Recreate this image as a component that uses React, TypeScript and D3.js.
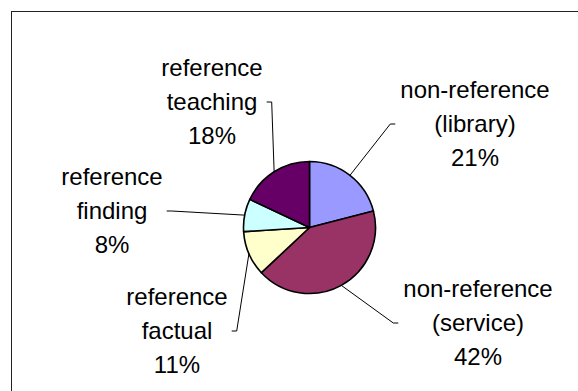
import React, { useMemo } from "react";
import * as d3 from "d3";

// Share of enquiries by type (percent)
const categories = [
  "non-reference (library)",
  "non-reference (service)",
  "reference factual",
  "reference finding",
  "reference teaching",
];
const shares = [21, 42, 11, 8, 18];
const sliceColors = ["#9999FF", "#993366", "#FFFFCC", "#CCFFFF", "#660066"];
// Text lines of each data label (name lines followed by percentage)
const labelLines = [
  ["non-reference", "(library)"],
  ["non-reference", "(service)"],
  ["reference", "factual"],
  ["reference", "finding"],
  ["reference", "teaching"],
];

// Layout
const W = 578;
const H = 391;
const CX = 309.5;
const CY = 227.5;
const R = 66;
const FONT = "Liberation Sans, Arial, Helvetica, sans-serif";
const FONT_SIZE = 24;
const LINE_H = 34;
// label block centre (x) and middle-line centre (y), side the leader meets
const labelPlace: { x: number; y: number; side: "left" | "right" }[] = [
  { x: 475, y: 124, side: "left" },
  { x: 478, y: 323, side: "left" },
  { x: 177, y: 331, side: "right" },
  { x: 112, y: 211, side: "right" },
  { x: 212, y: 102, side: "right" },
];

function textWidth(s: string): number {
  const c = document.createElement("canvas").getContext("2d");
  if (!c) return s.length * FONT_SIZE * 0.5;
  c.font = `${FONT_SIZE}px ${FONT}`;
  return c.measureText(s).width;
}

export default function App() {
  const data = categories.map((name, i) => ({
    name,
    value: shares[i],
    color: sliceColors[i],
    lines: [...labelLines[i], `${shares[i]}%`],
  }));

  const pie = d3
    .pie<(typeof data)[number]>()
    .value((d) => d.value)
    .sort(null)
    .startAngle(0)
    .endAngle(2 * Math.PI);
  const arcs = pie(data);
  const arc = d3.arc<d3.PieArcDatum<(typeof data)[number]>>().innerRadius(0).outerRadius(R);

  const widths = useMemo(
    () => data.map((d) => Math.max(...d.lines.map(textWidth))),
    []
  );

  return (
    <svg
      width={W}
      height={H}
      style={{ position: "absolute", left: 0, top: 0, background: "#fff" }}
    >
      <rect x={11.5} y={11.5} width={W + 20} height={H + 20} fill="#fff" stroke="#222" strokeWidth={1} />
      <g transform={`translate(${CX},${CY})`}>
        {arcs.map((a, i) => (
          <path key={i} d={arc(a) || ""} fill={a.data.color} stroke="#000" strokeWidth={1.6} strokeLinejoin="round" />
        ))}
      </g>
      {arcs.map((a, i) => {
        const mid = (a.startAngle + a.endAngle) / 2;
        const sx = CX + R * Math.sin(mid);
        const sy = CY - R * Math.cos(mid);
        const p = labelPlace[i];
        const half = widths[i] / 2;
        const ex = p.side === "left" ? p.x - half - 5 : p.x + half + 4;
        const elbow = p.side === "left" ? ex - 5 : ex + 5;
        const pts: [number, number][] = [
          [sx, sy],
          [elbow, p.y],
          [ex, p.y],
        ];
        return (
          <path
            key={`l${i}`}
            d={d3.line()(pts) || ""}
            fill="none"
            stroke="#000"
            strokeWidth={1}
          />
        );
      })}
      {arcs.map((a, i) => {
        const p = labelPlace[i];
        const lines = a.data.lines;
        const top = p.y - ((lines.length - 1) / 2) * LINE_H;
        return (
          <text
            key={`t${i}`}
            textAnchor="middle"
            fontFamily={FONT}
            fontSize={FONT_SIZE}
            fill="#000"
          >
            {lines.map((ln, j) => (
              <tspan key={j} x={p.x} y={top + j * LINE_H} dy="0.35em">
                {ln}
              </tspan>
            ))}
          </text>
        );
      })}
    </svg>
  );
}
